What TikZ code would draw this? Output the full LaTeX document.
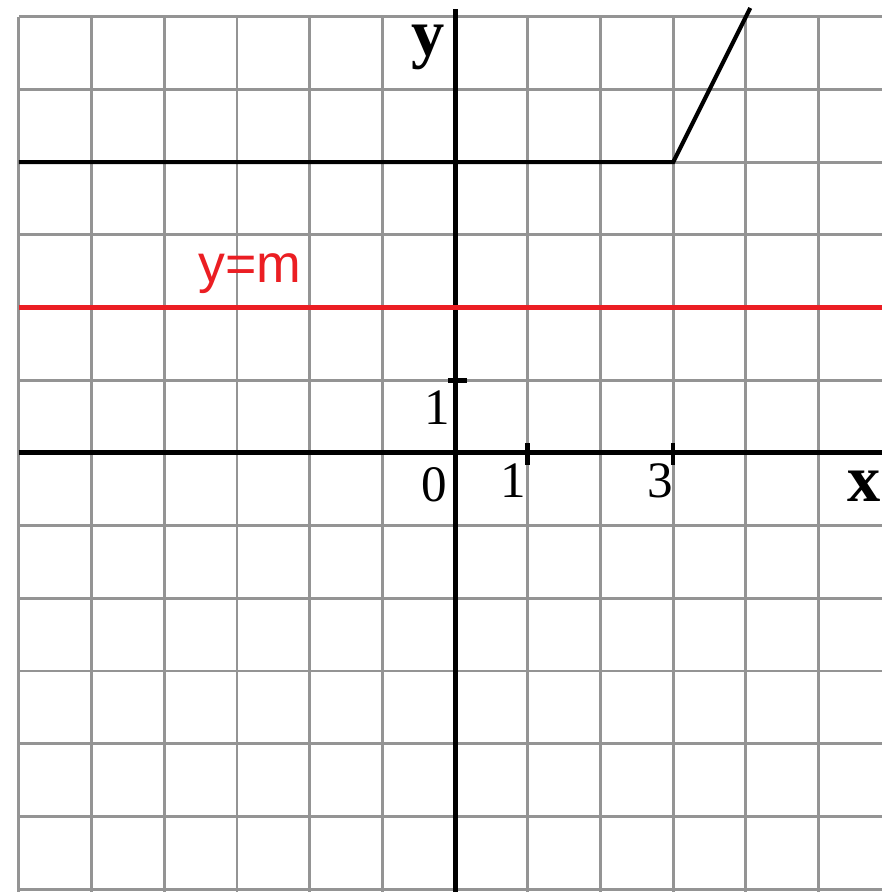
\documentclass[tikz,border=0pt]{standalone}
\usepackage{fontspec}
\setmainfont{Liberation Serif}
\setsansfont{Liberation Sans}
\begin{document}
\begin{tikzpicture}[x=1cm,y=1cm,
  gridline/.style={draw=black!42, line width=1.1pt},
  axisline/.style={draw=black, line width=1.9pt},
  tickmark/.style={draw=black, line width=1.8pt},
  graphline/.style={draw=black, line width=1.6pt, line join=miter},
  redline/.style={draw={rgb,255:red,235;green,30;blue,35}, line width=1.6pt},
  numlabel/.style={anchor=base, inner sep=0pt, font=\fontsize{20}{24}\selectfont},
  axlabel/.style={anchor=base, inner sep=0pt, font=\fontsize{26}{30}\selectfont\bfseries},
  redlabel/.style={anchor=base, inner sep=0pt, text={rgb,255:red,235;green,30;blue,35}, font=\sffamily\fontsize{21}{25}\selectfont}
]
\useasboundingbox[fill=white] (-6.26,-6.04) rectangle (5.87,6.23);
% grid
\foreach \i in {-6,...,5} \draw[gridline] (\i,-6.04) -- (\i,6);
\foreach \j in {-6,...,6} \draw[gridline] (-6,\j) -- (5.87,\j);
% axes
\coordinate (xl) at (-6,0);
\coordinate (xr) at (5.87,0);
\coordinate (yb) at (0,-6.04);
\coordinate (yt) at (0,6.1);
\draw[axisline] (xl) -- (xr);
\draw[axisline] (yb) -- (yt);
% ticks
\coordinate (t1a) at (1,-0.16); \coordinate (t1b) at (1,0.14);
\coordinate (t3a) at (3,-0.16); \coordinate (t3b) at (3,0.14);
\coordinate (ty1a) at (-0.1,1); \coordinate (ty1b) at (0.16,1);
\draw[tickmark] (t1a) -- (t1b);
\draw[tickmark] (t3a) -- (t3b);
\draw[tickmark] (ty1a) -- (ty1b);
% red line y=m
\coordinate (rl) at (-6,2);
\coordinate (rr) at (5.87,2);
\draw[redline] (rl) -- (rr);
% graph
\coordinate (ga) at (-6,4);
\coordinate (gb) at (3,4);
\coordinate (gc) at (4.06,6.12);
\draw[graphline] (ga) -- (gb) -- (gc);
% labels
\node[axlabel] (ylab) at (-0.37,5.47) {y};
\node[axlabel] (xlab) at (5.63,-0.67) {x};
\node[numlabel] (one_y) at (-0.25,0.385) {1};
\node[numlabel] (zero) at (-0.29,-0.67) {0};
\node[numlabel] (one_x) at (0.80,-0.62) {1};
\node[numlabel] (three) at (2.82,-0.62) {3};
\node[redlabel] (ym) at (-2.82,2.35) {y=m};
\end{tikzpicture}
\end{document}
